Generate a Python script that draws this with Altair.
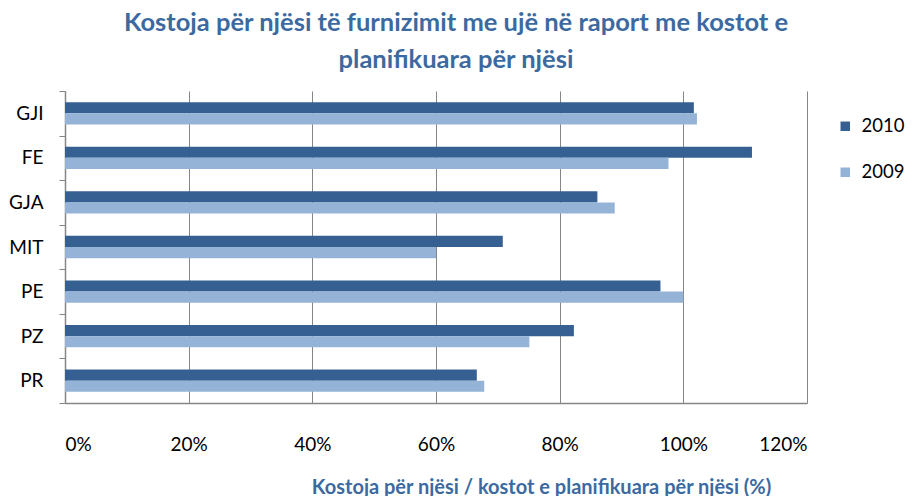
import altair as alt
import pandas as pd

categories = ["GJI", "FE", "GJA", "MIT", "PE", "PZ", "PR"]
values_2010 = [101.7, 111.1, 86.1, 70.8, 96.3, 82.3, 66.6]
values_2009 = [102.2, 97.6, 88.9, 60.0, 100.0, 75.1, 67.8]
series = ["2010", "2009"]
colors = ["#376092", "#95B3D7"]
x_ticks = [0, 20, 40, 60, 80, 100, 120]

rows = []
for c, v10, v09 in zip(categories, values_2010, values_2009):
    rows.append({"cat": c, "year": "2010", "value": v10})
    rows.append({"cat": c, "year": "2009", "value": v09})
df = pd.DataFrame(rows)

FONT = "Lato"
W, H = 742, 312
PL, PT = 57, 83

chart = (
    alt.Chart(df)
    .mark_bar()
    .encode(
        x=alt.X(
            "value:Q",
            scale=alt.Scale(domain=[0, 120], nice=False),
            axis=alt.Axis(
                values=x_ticks,
                labelExpr="datum.value + '%'",
                title="Kostoja për njësi / kostot e planifikuara  për njësi (%)",
                titleFont=FONT,
                titleFontSize=20,
                titleFontWeight="bold",
                titleColor="#3c6aa0",
                titleX=476,
                titleY=90,
                titleAlign="center",
                titleBaseline="alphabetic",
                labelFont=FONT,
                labelFontSize=19,
                labelColor="#000000",
                labelPadding=32,
                ticks=False,
                domainColor="#868686",
                domainWidth=1.5,
                grid=True,
                gridColor="#868686",
                gridWidth=1,
            ),
        ),
        y=alt.Y(
            "cat:N",
            sort=categories,
            scale=alt.Scale(paddingInner=0, paddingOuter=0),
            axis=alt.Axis(
                title=None,
                labelFont=FONT,
                labelFontSize=19,
                labelColor="#000000",
                labelPadding=16,
                tickBand="extent",
                tickSize=6,
                tickColor="#868686",
                domainColor="#868686",
                domainWidth=1.5,
                grid=False,
            ),
        ),
        yOffset=alt.YOffset(
            "year:N", sort=series, scale=alt.Scale(paddingInner=0, paddingOuter=1)
        ),
        color=alt.Color(
            "year:N",
            scale=alt.Scale(domain=series, range=colors),
            legend=alt.Legend(
                title=None,
                orient="none",
                legendX=771,
                legendY=26,
                symbolType="square",
                symbolSize=90,
                symbolStrokeWidth=0,
                labelFont=FONT,
                labelFontSize=18.5,
                labelColor="#000000",
                labelOffset=7,
                rowPadding=27,
            ),
        ),
    )
    .properties(
        width=W,
        height=H,
        title=alt.TitleParams(
            text=[
                "Kostoja për njësi të furnizimit me ujë në raport me kostot e",
                "planifikuara për njësi",
            ],
            font=FONT,
            fontSize=25.5,
            fontWeight="bold",
            color="#3c6aa0",
            anchor="middle",
            dx=20,
            lineHeight=37,
            offset=9,
        ),
        autosize=alt.AutoSizeParams(type="none"),
        padding={"left": PL, "top": PT, "right": 897 - PL - W, "bottom": 488 - PT - H},
    )
    .configure_view(stroke=None)
)

chart.save("out.html", embed_options={"renderer": "svg", "actions": False})
